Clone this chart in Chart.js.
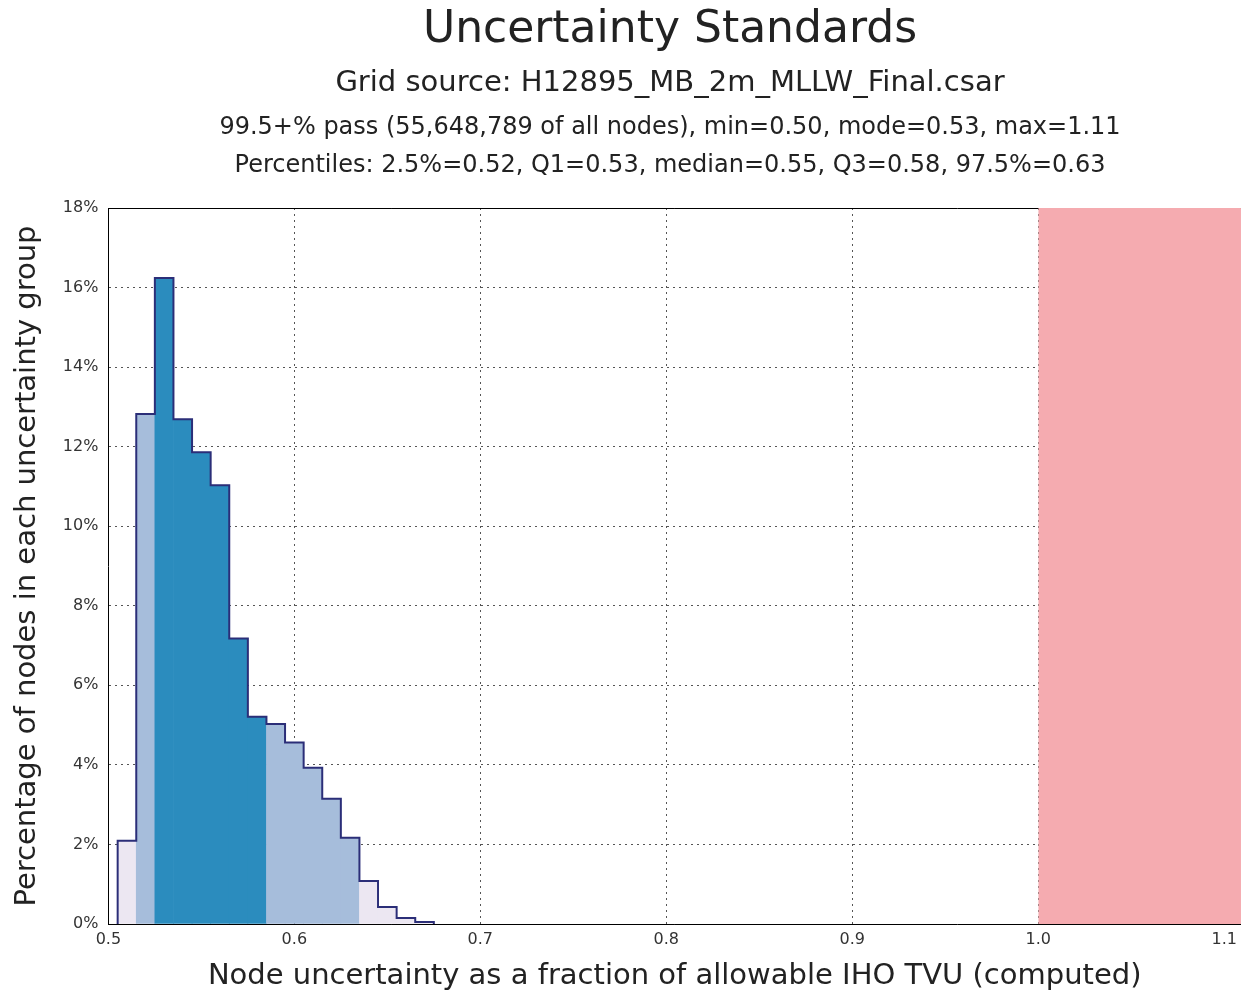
<!DOCTYPE html>
<html>
<head>
<meta charset="utf-8">
<script src="https://cdn.jsdelivr.net/npm/chart.js@4/dist/chart.umd.min.js"></script>
<style>
  html, body { margin: 0; padding: 0; background: #fff; }
  #wrap { position: relative; width: 1243px; height: 997px; overflow: hidden; font-family: "DejaVu Sans", sans-serif; color: #222; }
  .hdr { position: absolute; left: 0; width: 1340px; text-align: center; white-space: nowrap; }
  #t1 { top: 1px; font-size: 44px; }
  #t2 { top: 64px; font-size: 29px; }
  #t3 { top: 112px; font-size: 24px; }
  #t4 { top: 150px; font-size: 24px; }
  canvas { position: absolute; left: 0; top: 0; }
</style>
</head>
<body>
<div id="wrap">
  <canvas id="uncChart" width="1243" height="997"></canvas>
  <div class="hdr" id="t1">Uncertainty Standards</div>
  <div class="hdr" id="t2">Grid source: H12895_MB_2m_MLLW_Final.csar</div>
  <div class="hdr" id="t3">99.5+% pass (55,648,789 of all nodes), min=0.50, mode=0.53, max=1.11</div>
  <div class="hdr" id="t4">Percentiles: 2.5%=0.52, Q1=0.53, median=0.55, Q3=0.58, 97.5%=0.63</div>
</div>
<script>
// histogram bins (bin centres, width 0.01) and % of nodes in each
var binCenters = [0.51, 0.52, 0.53, 0.54, 0.55, 0.56, 0.57, 0.58, 0.59, 0.60, 0.61, 0.62, 0.63, 0.64, 0.65, 0.66, 0.67];
var nodePercent = [2.09, 12.82, 16.24, 12.69, 11.86, 11.03, 7.18, 5.21, 5.03, 4.56, 3.93, 3.15, 2.17, 1.08, 0.43, 0.15, 0.05];
var binWidth = 0.01;

// 2.5%, Q1, Q3, 97.5%
var percentileCuts = [0.52, 0.53, 0.58, 0.63];

// fraction >= 1.0 fails IHO TVU
var failRange = [1.0, 1.11];

var xTickValues = [0.5, 0.6, 0.7, 0.8, 0.9, 1.0, 1.1];
var yTickValues = [0, 2, 4, 6, 8, 10, 12, 14, 16, 18];

document.addEventListener('DOMContentLoaded', function () {
    var ctx = document.getElementById('uncChart').getContext('2d');

    var barColors = binCenters.map(function (c) {
        if (c >= percentileCuts[1] && c <= percentileCuts[2]) return '#2b8cbe';
        if (c >= percentileCuts[0] && c <= percentileCuts[3]) return '#a6bddb';
        return '#ece7f2';
    });

    // step outline around the bins
    var outline = [];
    binCenters.forEach(function (c, i) {
        if (i === 0) outline.push({ x: c - binWidth / 2, y: 0 });
        outline.push({ x: c - binWidth / 2, y: nodePercent[i] });
    });
    outline.push({ x: binCenters[binCenters.length - 1] + binWidth / 2, y: 0 });

    var yMax = yTickValues[yTickValues.length - 1];
    var tickFont = { family: 'DejaVu Sans', size: 16 };

    new Chart(ctx, {
        type: 'bar',
        data: {
            datasets: [{
                type: 'line',
                label: 'outline',
                data: outline,
                stepped: true,
                borderColor: '#2b2e78',
                borderWidth: 2,
                pointRadius: 0,
                fill: false,
                order: 0
            }, {
                type: 'bar',
                label: 'nodes',
                data: binCenters.map(function (c, i) { return { x: c, y: nodePercent[i] }; }),
                backgroundColor: barColors,
                borderWidth: 0,
                barPercentage: 1,
                categoryPercentage: 1,
                order: 1
            }, {
                type: 'line',
                label: 'fail',
                data: [{ x: failRange[0], y: yMax }, { x: failRange[1], y: yMax }],
                borderWidth: 0,
                pointRadius: 0,
                backgroundColor: '#f5abb0',
                fill: 'origin',
                order: 2
            }]
        },
        options: {
            responsive: false,
            animation: false,
            layout: { padding: { top: 208, right: 0, bottom: 3, left: 10 } },
            plugins: { legend: { display: false }, tooltip: { enabled: false } },
            scales: {
                x: {
                    type: 'linear',
                    min: 0.5,
                    max: 1.109,
                    offset: false,
                    z: 1,
                    afterBuildTicks: function (axis) {
                        axis.ticks = xTickValues.map(function (v) { return { value: v }; });
                    },
                    ticks: {
                        color: '#333',
                        font: tickFont,
                        padding: 6,
                        callback: function (v) { return v.toFixed(1); }
                    },
                    grid: { color: '#555', lineWidth: 1, drawTicks: false, offset: false },
                    border: { color: '#000', width: 1, dash: [2, 4] },
                    title: {
                        display: true,
                        text: 'Node uncertainty as a fraction of allowable IHO TVU (computed)',
                        color: '#222',
                        font: { family: 'DejaVu Sans', size: 29 },
                        padding: { top: 4, bottom: 0 }
                    }
                },
                y: {
                    min: 0,
                    max: yMax,
                    z: 1,
                    afterBuildTicks: function (axis) {
                        axis.ticks = yTickValues.map(function (v) { return { value: v }; });
                    },
                    ticks: {
                        color: '#333',
                        font: tickFont,
                        padding: 10,
                        callback: function (v) { return v + '%'; }
                    },
                    grid: { color: '#555', lineWidth: 1, drawTicks: false },
                    border: { color: '#000', width: 1, dash: [2, 4] },
                    title: {
                        display: true,
                        text: 'Percentage of nodes in each uncertainty group',
                        color: '#222',
                        font: { family: 'DejaVu Sans', size: 29 },
                        padding: { top: 0, bottom: 8 }
                    }
                },
                top: {
                    type: 'linear',
                    position: 'top',
                    min: 0.5,
                    max: 1.109,
                    z: 1,
                    ticks: { display: false },
                    grid: { display: false, drawTicks: false },
                    border: { color: '#000', width: 1 }
                }
            }
        }
    });
});
</script>
</body>
</html>
